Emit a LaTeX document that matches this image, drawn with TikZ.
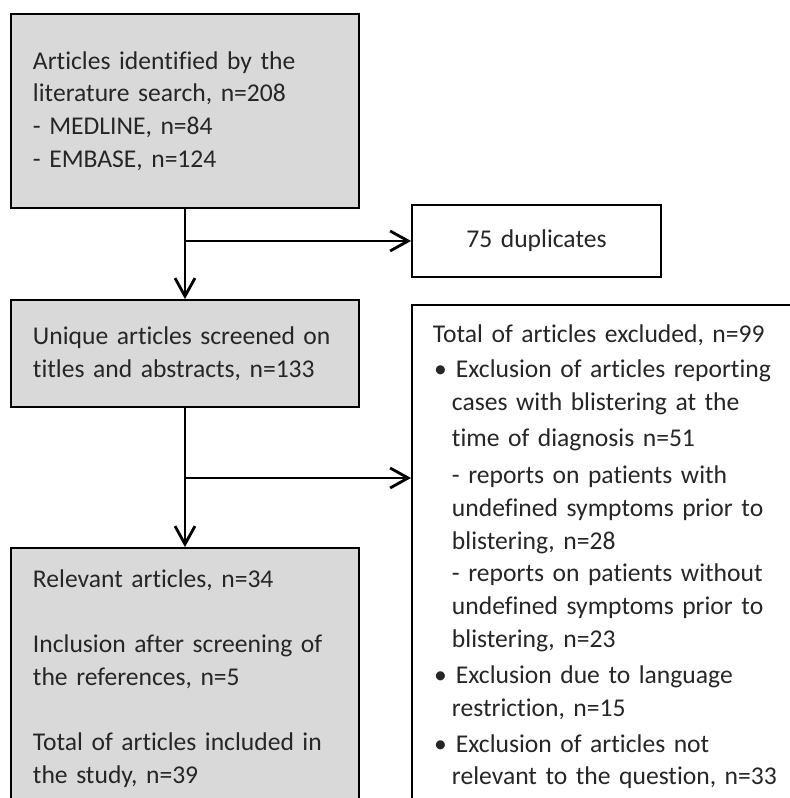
\documentclass[tikz,border=0pt]{standalone}
\usepackage{fontspec}
\setmainfont{Carlito}[Ligatures=NoCommon]
\usetikzlibrary{arrows.meta}

\definecolor{boxgray}{HTML}{D9D9D9}
\newcommand{\bulitem}{\makebox[0.575cm][l]{\hspace*{0.03cm}•}}
\newcommand{\indline}{\hspace*{0.475cm}}

\tikzset{
  flowbox/.style={draw=black, line width=1.4pt, fill=boxgray, anchor=north west,
    inner xsep=0.55cm, inner ysep=0pt, align=left, text=black!85,
    font=\fontsize{18.2}{23.3}\selectfont},
  flow/.style={line width=2pt, -{Straight Barb[length=0.45cm,width=0.5cm]}},
}

\begin{document}
\begin{tikzpicture}

\clip (0,0) rectangle (19.75,19.95);
\useasboundingbox (0,0) rectangle (19.75,19.95);

% Left column
\node[flowbox, text width=7.6cm, minimum height=4.85cm] (ident) at (0.25,19.625)
  {Articles identified by the\\ literature search, n=208\\ - MEDLINE, n=84\\ - EMBASE, n=124};

\node[flowbox, text width=7.6cm, minimum height=2.675cm] (unique) at (0.25,12.475)
  {Unique articles screened on\\ titles and abstracts, n=133};

\node[flowbox, text width=7.6cm, minimum height=6.525cm] (relevant) at (0.25,6.275)
  {Relevant articles, n=34\\[0.82cm]
   Inclusion after screening of\\ the references, n=5\\[0.8cm]
   Total of articles included in\\ the study, n=39};

% Right column
\node[flowbox, fill=white, text width=5.125cm, align=center, minimum height=1.8cm] (dup) at (10.275,14.85)
  {75 duplicates};

\node[flowbox, fill=white, text width=8.9cm, minimum height=12.6cm, inner xsep=0.525cm] (excl) at (10.275,12.35)
  {Total of articles excluded, n=99\\[0.05cm]
   \bulitem Exclusion of articles reporting\\
   \indline cases with blistering at the\\[0.1cm]
   \indline time of diagnosis n=51\\[0.1cm]
   \indline - reports on patients with\\
   \indline undefined symptoms prior to\\
   \indline blistering, n=28\\
   \indline - reports on patients without\\
   \indline undefined symptoms prior to\\
   \indline blistering, n=23\\[0.08cm]
   \bulitem Exclusion due to language\\
   \indline restriction, n=15\\[0.08cm]
   \bulitem Exclusion of articles not\\
   \indline relevant to the question, n=33};

% Connectors
\coordinate (fork) at (4.6,8.0);
\draw[flow] (ident.south) -- (unique.north);
\draw[flow] (ident.south |- dup.west) -- (dup.west);
\draw[flow] (unique.south) -- (relevant.north);
\draw[flow] (fork) -- (fork -| excl.west);

\end{tikzpicture}
\end{document}
